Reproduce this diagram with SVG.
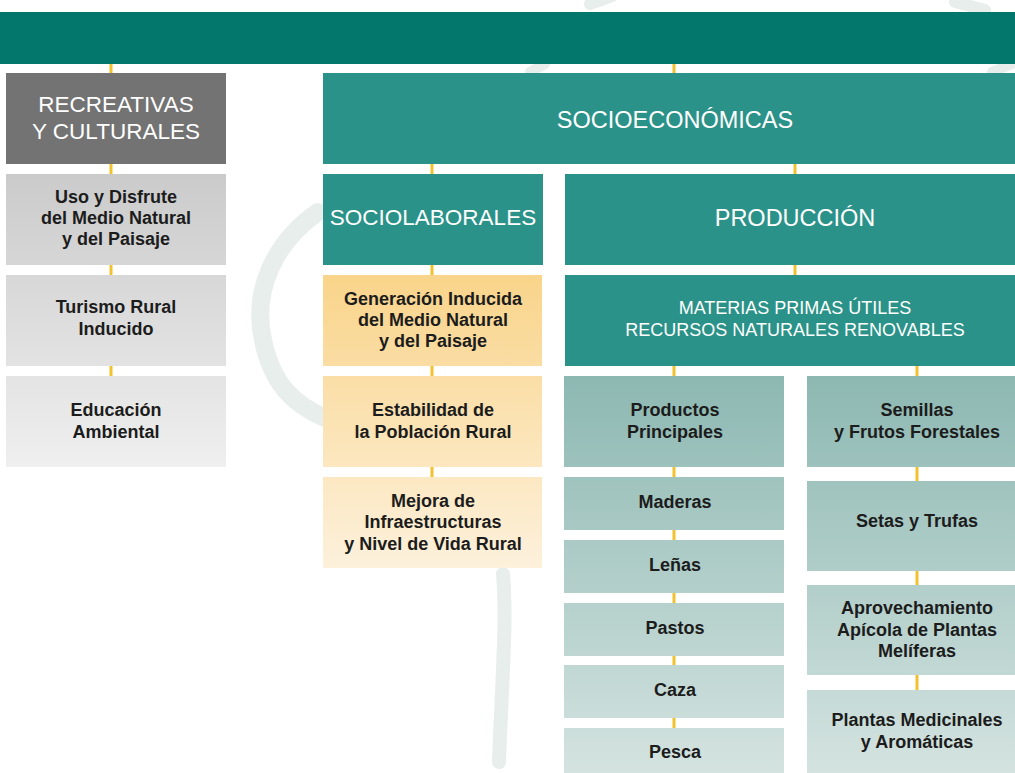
<svg xmlns="http://www.w3.org/2000/svg" width="1015" height="773" viewBox="0 0 1015 773">
<defs>
<linearGradient id="gGrey" gradientUnits="userSpaceOnUse" x1="0" y1="174" x2="0" y2="467">
<stop offset="0" stop-color="#cbcbcb"/><stop offset="1" stop-color="#efefef"/>
</linearGradient>
<linearGradient id="gYel" gradientUnits="userSpaceOnUse" x1="0" y1="275" x2="0" y2="568">
<stop offset="0" stop-color="#f9d48a"/><stop offset="1" stop-color="#fdf1dc"/>
</linearGradient>
<linearGradient id="gTeal" gradientUnits="userSpaceOnUse" x1="0" y1="376" x2="0" y2="773">
<stop offset="0" stop-color="#8db8b2"/><stop offset="1" stop-color="#d4e3e0"/>
</linearGradient>
<style>
.hd{fill:#2a9288}
.bar{fill:#03776c}
.gh{fill:#737373}
.ht{font-family:"Liberation Sans",Arial,sans-serif;fill:#ffffff;font-weight:400;text-anchor:middle}
.ct{font-family:"Liberation Sans",Arial,sans-serif;fill:#1c1c1c;font-weight:700;font-size:18px;text-anchor:middle}
.cn{stroke:#f2c12e;stroke-width:3;fill:none}
.wm{fill:none;stroke:#e8eeec;stroke-linecap:round}
</style>
</defs>
<rect width="1015" height="773" fill="#ffffff"/>
<g id="watermark">
<path class="wm" stroke-width="18" d="M318,212 C275,242 252,290 263,340 C272,385 295,405 325,418"/>
<path class="wm" stroke-width="14" d="M503,574 C507,620 502,680 499,762"/>
<path class="wm" stroke-width="12" d="M590,4 L612,-4"/>
<path class="wm" stroke-width="12" d="M955,2 L985,10"/>
<path class="wm" stroke-width="10" d="M530,72 L545,64"/>
<path class="wm" stroke-width="10" d="M992,72 L1012,64"/>
</g>
<g id="connectors">
<line class="cn" x1="111" y1="64" x2="111" y2="376"/>
<line class="cn" x1="674" y1="64" x2="674" y2="73"/>
<line class="cn" x1="432" y1="164" x2="432" y2="477"/>
<line class="cn" x1="795" y1="164" x2="795" y2="275"/>
<line class="cn" x1="674" y1="366" x2="674" y2="728"/>
<line class="cn" x1="917" y1="366" x2="917" y2="690"/>
</g>
<g id="top-bar"><rect class="bar" x="0" y="12" width="1015" height="52"/></g>
<g id="recreativas">
<rect class="gh" x="6" y="73" width="220" height="91"/>
<text class="ht" font-size="22.5"><tspan x="116" y="112">RECREATIVAS</tspan><tspan x="116" y="139">Y CULTURALES</tspan></text>
</g>
<g id="uso">
<rect fill="url(#gGrey)" x="6" y="174" width="220" height="91"/>
<text class="ct"><tspan x="116" y="203">Uso y Disfrute</tspan><tspan x="116" y="224">del Medio Natural</tspan><tspan x="116" y="245">y del Paisaje</tspan></text>
</g>
<g id="turismo">
<rect fill="url(#gGrey)" x="6" y="275" width="220" height="91"/>
<text class="ct"><tspan x="116" y="313">Turismo Rural</tspan><tspan x="116" y="335">Inducido</tspan></text>
</g>
<g id="educacion">
<rect fill="url(#gGrey)" x="6" y="376" width="220" height="91"/>
<text class="ct"><tspan x="116" y="416">Educación</tspan><tspan x="116" y="438">Ambiental</tspan></text>
</g>
<g id="socioeconomicas">
<rect class="hd" x="323" y="73" width="692" height="91"/>
<text class="ht" font-size="23.5" x="675" y="128">SOCIOECONÓMICAS</text>
</g>
<g id="sociolaborales">
<rect class="hd" x="323" y="174" width="220" height="91"/>
<text class="ht" font-size="22.5" x="433" y="225">SOCIOLABORALES</text>
</g>
<g id="generacion">
<rect fill="url(#gYel)" x="323" y="275" width="219" height="91"/>
<text class="ct"><tspan x="433" y="305">Generación Inducida</tspan><tspan x="433" y="326">del Medio Natural</tspan><tspan x="433" y="347">y del Paisaje</tspan></text>
</g>
<g id="estabilidad">
<rect fill="url(#gYel)" x="323" y="376" width="219" height="91"/>
<text class="ct"><tspan x="433" y="416">Estabilidad de</tspan><tspan x="433" y="438">la Población Rural</tspan></text>
</g>
<g id="mejora">
<rect fill="url(#gYel)" x="323" y="477" width="219" height="91"/>
<text class="ct"><tspan x="433" y="507">Mejora de</tspan><tspan x="433" y="528">Infraestructuras</tspan><tspan x="433" y="550">y Nivel de Vida Rural</tspan></text>
</g>
<g id="produccion">
<rect class="hd" x="565" y="174" width="450" height="91"/>
<text class="ht" font-size="23.5" x="795" y="226">PRODUCCIÓN</text>
</g>
<g id="materias">
<rect class="hd" x="565" y="275" width="450" height="91"/>
<text class="ht" font-size="18"><tspan x="795" y="314">MATERIAS PRIMAS ÚTILES</tspan><tspan x="795" y="336">RECURSOS NATURALES RENOVABLES</tspan></text>
</g>
<g id="productos">
<rect fill="url(#gTeal)" x="564" y="376" width="220" height="91"/>
<text class="ct"><tspan x="675" y="416">Productos</tspan><tspan x="675" y="438">Principales</tspan></text>
</g>
<g id="maderas">
<rect fill="url(#gTeal)" x="564" y="477" width="220" height="53"/>
<text class="ct" x="675" y="508">Maderas</text>
</g>
<g id="lenas">
<rect fill="url(#gTeal)" x="564" y="540" width="220" height="53"/>
<text class="ct" x="675" y="571">Leñas</text>
</g>
<g id="pastos">
<rect fill="url(#gTeal)" x="564" y="603" width="220" height="53"/>
<text class="ct" x="675" y="634">Pastos</text>
</g>
<g id="caza">
<rect fill="url(#gTeal)" x="564" y="665" width="220" height="53"/>
<text class="ct" x="675" y="696">Caza</text>
</g>
<g id="pesca">
<rect fill="url(#gTeal)" x="564" y="728" width="220" height="45"/>
<text class="ct" x="675" y="758">Pesca</text>
</g>
<g id="semillas">
<rect fill="url(#gTeal)" x="807" y="376" width="208" height="91"/>
<text class="ct"><tspan x="917" y="416">Semillas</tspan><tspan x="917" y="438">y Frutos Forestales</tspan></text>
</g>
<g id="setas">
<rect fill="url(#gTeal)" x="807" y="481" width="208" height="90"/>
<text class="ct" x="917" y="527">Setas y Trufas</text>
</g>
<g id="aprovechamiento">
<rect fill="url(#gTeal)" x="807" y="585" width="208" height="90"/>
<text class="ct"><tspan x="917" y="614">Aprovechamiento</tspan><tspan x="917" y="636">Apícola de Plantas</tspan><tspan x="917" y="657">Melíferas</tspan></text>
</g>
<g id="plantas">
<rect fill="url(#gTeal)" x="807" y="690" width="208" height="83"/>
<text class="ct"><tspan x="917" y="726">Plantas Medicinales</tspan><tspan x="917" y="748">y Aromáticas</tspan></text>
</g>
</svg>
